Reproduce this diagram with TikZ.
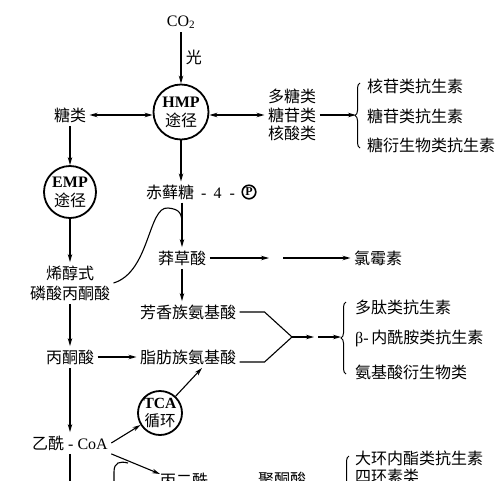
\documentclass[tikz,border=0pt]{standalone}
\usepackage{fontspec}
\setmainfont{Liberation Serif}
\newfontfamily\cjk{Noto Sans CJK SC}
\usetikzlibrary{arrows.meta,decorations.pathreplacing}
\newcommand{\latn}[1]{{\rmfamily #1}}

\begin{document}
\begin{tikzpicture}[x=1pt,y=-1pt,
  font=\cjk\fontsize{16}{18.5}\selectfont,
  arr/.style={-{Stealth[length=8pt,width=4.5pt]},line width=1.1pt},
  darr/.style={{Stealth[length=8pt,width=4.5pt]}-{Stealth[length=8pt,width=4.5pt]},line width=1.1pt},
  ring/.style={circle,draw,line width=1.8pt,inner sep=0pt,align=center,font=\cjk\fontsize{16}{19}\selectfont},
  brc/.style={decorate,decoration={brace,amplitude=5pt},line width=1pt},
  lst/.style={anchor=west,inner sep=0pt}]
  \useasboundingbox (0,0) rectangle (500,480);
  \clip (0,0) rectangle (500,480);

  % top: HMP
  \node (co2) at (181,22) {\latn{CO\textsubscript{2}}};
  \node[ring,minimum size=55pt] (hmp) at (181,112) {\latn{\bfseries HMP}\\途径};
  \draw[arr] (co2) -- (hmp) node[midway,right=1pt] (gu) {光};
  \node (tl) at (70,115) {糖类};
  \draw[darr] (tl) -- (tl -| hmp.west);
  \node[align=center] (dt) at (292,115) {多糖类\\糖苷类\\核酸类};
  \draw[darr] (dt) -- (dt -| hmp.east);
  \coordinate (b1) at (356,115);
  \draw[arr] (dt) -- (b1);
  \draw[brc] (360,148) -- (360,83);
  \node[lst] (hg) at (367,86) {核苷类抗生素};
  \node[lst] (tg) at (367,116) {糖苷类抗生素};
  \node[lst] (ty) at (367,145) {糖衍生物类抗生素};

  % shikimate branch
  \node[lst,inner sep=3pt] (ery) at (143,192) {赤藓糖\latn{\hspace{7pt}-\hspace{7pt}4\hspace{8pt}-}};
  \node[circle,draw,line width=1.6pt,inner sep=1pt,font=\rmfamily\bfseries\fontsize{12}{12}\selectfont] (pp) at (249,192) {P};
  \draw[arr] (hmp) -- (hmp |- ery.north);
  \node (mcs) at (182,258) {莽草酸};
  \draw[arr] (mcs |- ery.south) -- (mcs);
  \node (lms) at (378,258) {氯霉素};
  \coordinate (m1) at (269,258);
  \coordinate (m2) at (283,258);
  \draw[arr] (mcs) -- (m1);
  \draw[arr] (m2) -- (lms);
  \node (fx) at (188,312) {芳香族氨基酸};
  \draw[arr] (mcs) -- (mcs |- fx.north);
  \node (zf) at (188,357) {脂肪族氨基酸};
  \coordinate (jn) at (292,337);
  \draw[line width=1.1pt] (fx.east) -- ++(25,0) -- (jn);
  \draw[line width=1.1pt] ([yshift=-5pt]zf.east) -- ++(25,0) -- (jn);
  \coordinate (j1) at (314,337);
  \coordinate (j2) at (318,337);
  \coordinate (b2) at (341,337);
  \draw[arr] (jn) -- (j1);
  \draw[arr] (j2) -- (b2);
  \draw[brc] (346,374) -- (346,302);
  \node[lst] (dp) at (355,307) {多肽类抗生素};
  \node[lst] (bn) at (355,338) {\latn{β-}\,内酰胺类抗生素};
  \node[lst] (aj) at (355,372) {氨基酸衍生物类};

  % left column: EMP
  \node[ring,minimum size=52pt] (emp) at (70,192) {\latn{\bfseries EMP}\\途径};
  \node[align=center] (ec) at (70,283) {烯醇式\\[1.5pt]磷酸丙酮酸};
  \node (bt) at (70,357) {丙酮酸};
  \node (yx) at (70,443) {乙酰\latn{ - CoA}};
  \draw[arr] (tl) -- (emp);
  \draw[arr] (emp) -- (ec);
  \draw[arr] (ec) -- (bt);
  \draw[arr] (bt) -- (yx);
  \draw[arr] (bt) -- (zf);
  \draw[line width=1.1pt] (ec.east) .. controls (150,272) and (148,206) .. (168,208)
    .. controls (180,209) and (182,214) .. (182,224);

  % TCA and bottom
  \node[ring,minimum size=44pt,inner sep=-4pt,font=\cjk\fontsize{15.5}{17.5}\selectfont] (tca) at (160,413) {\latn{\bfseries TCA}\\循环};
  \draw[arr] (yx.east) -- (tca);
  \draw[arr] (tca) -- ([xshift=14pt]zf.south);
  \node[lst] (bey) at (160,480) {丙二酰};
  \node[lst] (jt) at (258,480) {聚酮酸};
  \draw[arr] (yx.south east) -- ([yshift=6pt]bey.west);
  \coordinate (yd) at (70,500);
  \draw[line width=1.1pt] (yx) -- (yd);
  \coordinate (hk) at (114,500);
  \draw[line width=1.1pt] (hk) -- (114,472) .. controls (114,462) and (120,461) .. (128,463);
  \draw[brc] (349,540) -- (349,456);
  \node[lst] (dh) at (355,458) {大环内酯类抗生素};
  \node[lst] (sh) at (355,476) {四环素类};
\end{tikzpicture}
\end{document}
